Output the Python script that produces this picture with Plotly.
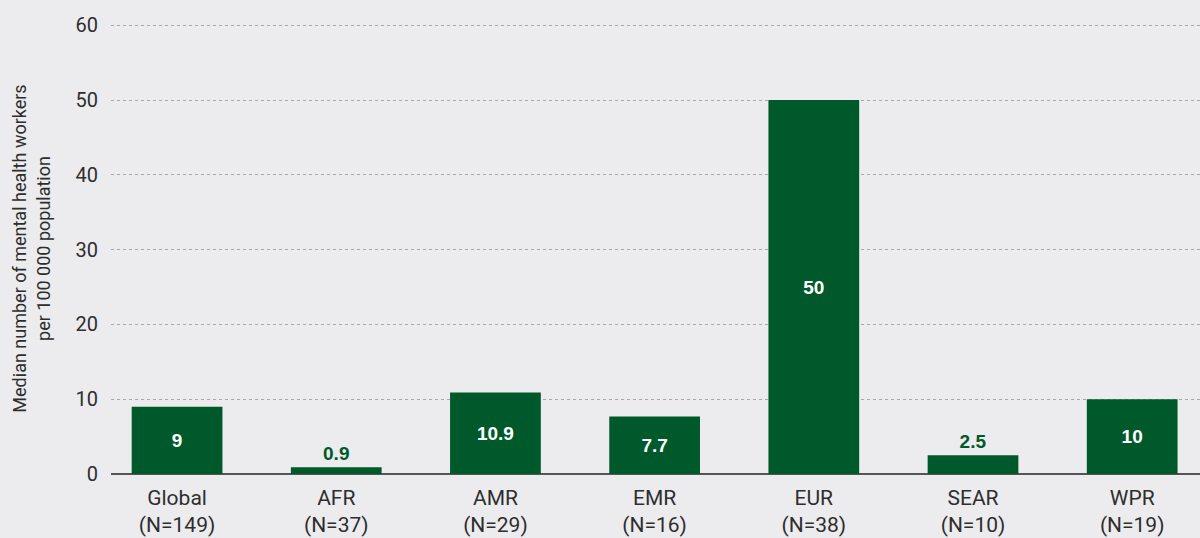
import plotly.graph_objects as go

regions = ["Global", "AFR", "AMR", "EMR", "EUR", "SEAR", "WPR"]
counts = [149, 37, 29, 16, 38, 10, 19]
values = [9, 0.9, 10.9, 7.7, 50, 2.5, 10]
value_labels = ["9", "0.9", "10.9", "7.7", "50", "2.5", "10"]
y_ticks = [0, 10, 20, 30, 40, 50, 60]

GREEN = "#00592A"
BG = "#ECECEE"
TXT = "#2E2E2E"

tick_text = [f"{r}<br>(N={n})" for r, n in zip(regions, counts)]
positions = ["outside" if v < 5 else "inside" for v in values]

fig = go.Figure()
fig.add_trace(go.Bar(
    x=list(range(len(regions))),
    y=values,
    width=0.57,
    marker=dict(color=GREEN, line=dict(width=0)),
    text=value_labels,
    textposition=positions,
    insidetextanchor="middle",
    insidetextfont=dict(color="white", size=19, family="Liberation Sans, Arial, sans-serif", weight="bold"),
    outsidetextfont=dict(color=GREEN, size=19, family="Liberation Sans, Arial, sans-serif", weight="bold"),
    textangle=0,
    cliponaxis=False,
    hoverinfo="skip",
))

fig.update_layout(
    width=1200, height=538,
    margin=dict(l=111, r=0, t=23, b=64),
    paper_bgcolor=BG, plot_bgcolor=BG,
    showlegend=False,
    font=dict(family="Roboto, sans-serif", color=TXT, size=20),
    xaxis=dict(
        range=[-0.415, 6.426],
        tickmode="array",
        tickvals=list(range(len(regions))),
        ticktext=tick_text,
        showgrid=False,
        zeroline=False,
        showline=False,
        ticks="",
        ticklabelstandoff=9,
        tickfont=dict(size=21, color=TXT),
    ),
    yaxis=dict(
        range=[0, 60.3],
        tickmode="array",
        tickvals=y_ticks,
        showgrid=True,
        gridcolor="#A8A8A8",
        gridwidth=1,
        griddash="dot",
        zeroline=True,
        zerolinecolor="#555555",
        zerolinewidth=2,
        showline=False,
        ticks="",
        ticklabelstandoff=12,
        tickfont=dict(size=20, color=TXT),
        title=dict(
            text="Median number of mental health workers<br>per 100 000 population",
            font=dict(size=18, color=TXT),
            standoff=20,
        ),
    ),
)

fig.write_html(
    "out.html",
    config={"displayModeBar": False},
    post_script="document.body.style.margin='0';document.body.style.padding='0';",
)
